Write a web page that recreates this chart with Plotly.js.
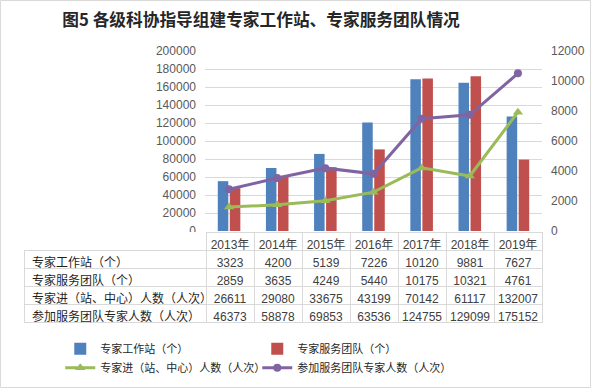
<!DOCTYPE html>
<html>
<head>
<meta charset="utf-8">
<script src="https://cdn.plot.ly/plotly-3.0.1.min.js"></script>
<style>html,body{margin:0;padding:0;background:#fff;}#chart{width:592px;height:388px;}</style>
</head>
<body>
<div id="chart"></div>
<script>
var years = ['2013年','2014年','2015年','2016年','2017年','2018年','2019年'];
var stations = [3323, 4200, 5139, 7226, 10120, 9881, 7627];
var teams = [2859, 3635, 4249, 5440, 10175, 10321, 4761];
var entrants = [26611, 29080, 33675, 43199, 70142, 61117, 132007];
var members = [46373, 58878, 69853, 63536, 124755, 129099, 175152];
var seriesNames = ['专家工作站（个）','专家服务团队（个）','专家进（站、中心）人数（人次）','参加服务团队专家人数（人次）'];
var leftTicks = [0,20000,40000,60000,80000,100000,120000,140000,160000,180000,200000];
var rightTicks = [0,2000,4000,6000,8000,10000,12000];

var FONT = "'Liberation Sans', 'Noto Sans CJK SC', sans-serif";
var CJK = "'Noto Sans CJK SC', sans-serif";
var grid = '#d9d9d9';

var traces = [
  {type:'bar', name:seriesNames[0], x:years, y:stations, yaxis:'y', xaxis:'x', marker:{color:'#4F81BD'}},
  {type:'bar', name:seriesNames[1], x:years, y:teams, yaxis:'y', xaxis:'x', marker:{color:'#C0504D'}},
  {type:'scatter', mode:'lines+markers', name:seriesNames[2], x:years, y:entrants, yaxis:'y2', xaxis:'x',
   line:{color:'#9BBB59', width:3}, marker:{symbol:'triangle-up', size:9, color:'#9BBB59'}},
  {type:'scatter', mode:'lines+markers', name:seriesNames[3], x:years, y:members, yaxis:'y2', xaxis:'x',
   line:{color:'#8064A2', width:3}, marker:{symbol:'circle', size:8, color:'#8064A2'}}
];

var headerVals = [''].concat(years);
var cellVals = [seriesNames];
for (var i = 0; i < years.length; i++) {
  cellVals.push([stations[i], teams[i], entrants[i], members[i]]);
}
var hdrLine = ['rgba(0,0,0,0)'];
var cellFontColor = ['#1f1f1f'];
var aligns = ['left'];
for (var j = 0; j < years.length; j++) { hdrLine.push(grid); cellFontColor.push('#404040'); aligns.push('center'); }

// paper spans y=51..338 px (287 px)
traces.push({
  type:'table',
  domain:{x:[0,1], y:[0, 0.3693]},
  columnwidth:[182,48,48,48,48,48,48,48],
  header:{values:headerVals, height:18, align:'center', fill:{color:'white'},
    line:{color:hdrLine, width:1}, font:{family:FONT, size:12, color:'#404040'}},
  cells:{values:cellVals, height:18, align:aligns, fill:{color:'white'},
    line:{color:grid, width:1}, font:{family:FONT, size:12, color:cellFontColor}}
});

var layout = {
  width:592, height:388,
  margin:{l:24, r:50, t:51, b:50, autoexpand:false},
  paper_bgcolor:'white', plot_bgcolor:'rgba(0,0,0,0)',
  font:{family:FONT, size:12, color:'#595959'},
  title:{text:'<b>图5 各级科协指导组建专家工作站、专家服务团队情况</b>', x:0.441, xanchor:'center',
    y:0.948, yref:'container', yanchor:'middle', font:{family:CJK, size:16.7, color:'#262626'}},
  barmode:'group', bargap:0.5, bargroupgap:0.125,
  showlegend:true,
  legend:{orientation:'h', x:0.07, xanchor:'left', y:0.013, yanchor:'top',
    entrywidth:152, entrywidthmode:'pixels', font:{family:CJK, size:11, color:'#262626'},
    tracegroupgap:0, itemwidth:30, bgcolor:'rgba(0,0,0,0)'},
  xaxis:{domain:[0.3494,1], type:'category', showticklabels:false, showgrid:false, zeroline:false, showline:false, ticks:''},
  yaxis:{domain:[0.3728,1], side:'right', range:[0,12000], tickvals:rightTicks, tickformat:'d', showgrid:false, zeroline:false,
    showline:false, ticks:'', ticklabelstandoff:8, tickfont:{size:12, color:'#595959'}},
  yaxis2:{overlaying:'y', side:'left', range:[0,200000], tickvals:leftTicks, tickformat:'d', showgrid:true, gridcolor:grid, gridwidth:1,
    zeroline:false, showline:false, ticks:'', ticklabelstandoff:8, tickfont:{size:12, color:'#595959'}},
  shapes:[
    {type:'rect', xref:'paper', yref:'paper', x0:-0.0454, x1:1.0937, y0:-0.1725, y1:1.1760,
     line:{color:'#d9d9d9', width:1}, fillcolor:'rgba(0,0,0,0)', layer:'below'}
  ]
};

Plotly.newPlot('chart', traces, layout, {displayModeBar:false, staticPlot:true});
</script>
</body>
</html>
